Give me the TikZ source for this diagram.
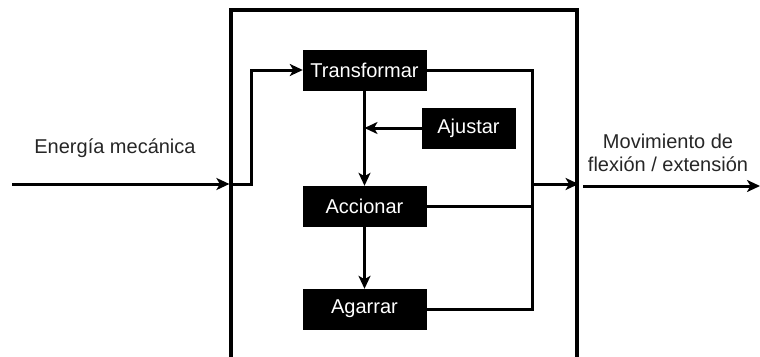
\documentclass[tikz,border=0pt]{standalone}
\usepackage{fontspec}
\setmainfont{Liberation Sans}
\usetikzlibrary{arrows.meta,calc}
\begin{document}
\begin{tikzpicture}[x=1pt,y=-1pt,
 blk/.style={fill=black,draw=black,text=white,minimum width=123pt,minimum height=40pt,inner sep=0pt,font=\fontsize{20}{23}\selectfont},
 arr/.style={-{Stealth[length=13pt,width=12pt,inset=3.5pt]},line width=3pt},
 ln/.style={line width=3pt},
 lbl/.style={font=\fontsize{20}{23}\selectfont, align=center, text=black!85}]
\useasboundingbox (0,0) rectangle (760,356);
\node[draw, line width=3.2pt, minimum width=346pt, minimum height=380pt, inner sep=0pt] (sys) at (404,200) {};
\node[blk] (tr) at (364.5,70) {Transformar};
\node[blk, minimum width=93pt] (aj) at (468.5,128) {Ajustar};
\node[blk] (ac) at (364.5,206) {Accionar};
\node[blk] (ag) at (364.5,309) {Agarrar};
\node[lbl] (en) at (115,148) {Energía mecánica};
\node[lbl] (mo) at (668,153) {Movimiento de\\flexión / extensión};
\coordinate (in) at (12,184);
\coordinate (kx) at (251,184);
\coordinate (bus) at (532,184);
\coordinate (jn) at (364.5,128);
\coordinate (o1) at (583,186);
\coordinate (o2) at (760,186);
\draw[arr] (in) -- (in -| sys.west);
\draw[arr] (in -| sys.west) -- (kx) |- (tr.west);
\draw[arr] (tr.south) -- (ac.north);
\draw[arr] (aj.west) -- (jn);
\draw[arr] (ac.south) -- (ag.north);
\draw[ln] (tr.east) -| (bus |- ag.east) -- (ag.east);
\draw[ln] (ac.east) -- (ac.east -| bus);
\draw[arr] (bus) -- (bus -| sys.east);
\draw[arr] (o1) -- (o2);
\end{tikzpicture}
\end{document}
